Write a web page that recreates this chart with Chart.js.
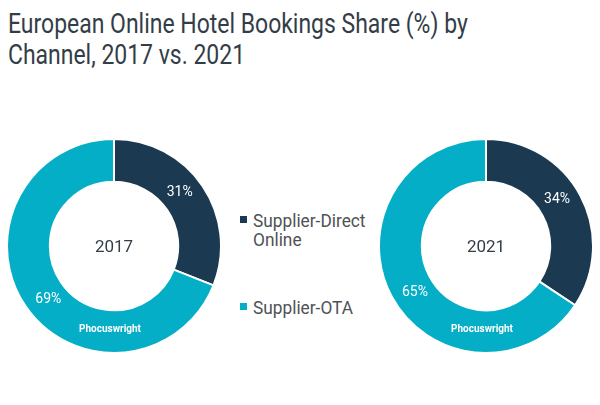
<!DOCTYPE html>
<html>
<head>
<meta charset="utf-8">
<script src="https://cdn.jsdelivr.net/npm/chart.js@4/dist/chart.umd.min.js"></script>
<style>
  body { margin: 0; background: #fff; width: 600px; height: 405px; position: relative; overflow: hidden; font-family: Roboto, "Noto Sans", sans-serif; }
  #title { position: absolute; left: 8px; top: 8px; font-size: 28px; line-height: 31px; color: #333d47; white-space: nowrap; transform: scaleX(0.82); transform-origin: 0 0; }
  .pie { position: absolute; top: 138px; }
  #legend { position: absolute; left: 240px; top: 0; color: #4f5255; font-size: 18px; line-height: 19px; }
  .item { position: absolute; left: 0; white-space: nowrap; }
  .item span.sw { position: absolute; left: 0; top: 5px; width: 7px; height: 7px; }
  .item span.tx { position: absolute; left: 13px; top: 0; transform: scaleX(0.96); transform-origin: 0 0; }
</style>
</head>
<body>
<div id="title">European Online Hotel Bookings Share (%) by<br>Channel, 2017 vs. 2021</div>
<canvas id="chart2017" class="pie" width="216" height="216" style="left:6px"></canvas>
<canvas id="chart2021" class="pie" width="216" height="216" style="left:378px"></canvas>
<div id="legend"></div>

<script>
const channels = ['Supplier-Direct\nOnline', 'Supplier-OTA'];
const colors = ['#1b3a51', '#05aec7'];
const years = ['2017', '2021'];
const share2017 = [31, 69];
const share2021 = [34, 65];

// legend in the middle
const legend = document.getElementById('legend');
const legendTops = [211, 298];
channels.forEach((c, i) => {
    const div = document.createElement('div');
    div.className = 'item';
    div.style.top = legendTops[i] + 'px';
    div.innerHTML = '<span class="sw" style="background:' + colors[i] + '"></span><span class="tx">' + c.replace('\n', '<br>') + '</span>';
    legend.appendChild(div);
});

// center year, percent labels and watermark
const labelPlugin = {
    id: 'labels',
    afterDatasetsDraw(chart) {
        const ctx = chart.ctx;
        const meta = chart.getDatasetMeta(0);
        const data = chart.data.datasets[0].data;
        const arc0 = meta.data[0];
        const cx = arc0.x, cy = arc0.y;
        ctx.save();
        ctx.textAlign = 'center';
        ctx.textBaseline = 'middle';
        ctx.fillStyle = '#333d47';
        ctx.font = '17px Roboto';
        ctx.fillText(chart.options.plugins.centerText, cx, cy + 2);

        ctx.fillStyle = '#ffffff';
        ctx.font = '14px Roboto';
        meta.data.forEach((arc, i) => {
            // labels sit a little before the middle of each slice
            const mid = (arc.startAngle + arc.endAngle) / 2 - 0.09;
            const r = 85;
            ctx.fillText(data[i] + '%', cx + Math.cos(mid) * r, cy + Math.sin(mid) * r);
        });

        ctx.font = 'bold 10px Roboto';
        ctx.fillText('Phocuswright', cx - 4, cy + 83);
        ctx.restore();
    }
};

const makeDoughnut = (id, values, year) => {
    new Chart(document.getElementById(id), {
        type: 'doughnut',
        data: {
            labels: channels,
            datasets: [{
                data: values,
                backgroundColor: colors,
                borderColor: '#ffffff',
                borderWidth: 2,
                hoverOffset: 0
            }]
        },
        options: {
            responsive: false,
            animation: false,
            cutout: '60%',
            layout: { padding: 0 },
            events: [],
            plugins: {
                legend: { display: false },
                tooltip: { enabled: false },
                centerText: year
            }
        },
        plugins: [labelPlugin]
    });
};

makeDoughnut('chart2017', share2017, years[0]);
makeDoughnut('chart2021', share2021, years[1]);
</script>
</body>
</html>
